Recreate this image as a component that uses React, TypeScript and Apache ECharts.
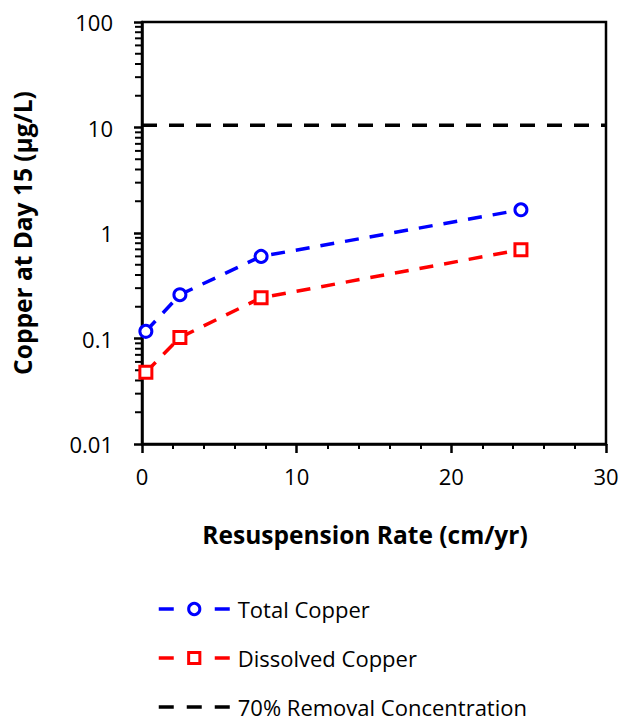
import React, { useEffect, useRef } from "react";
import * as echarts from "echarts";

const rates = [0.25, 2.45, 7.7, 24.5];
const totalCopper = [0.117, 0.26, 0.6, 1.66];
const dissolvedCopper = [0.048, 0.102, 0.243, 0.695];
const removalLevel = 10.5;
const yMinorTicks = [
  0.02, 0.03, 0.04, 0.05, 0.06, 0.07, 0.08, 0.09,
  0.2, 0.3, 0.4, 0.5, 0.6, 0.7, 0.8, 0.9,
  2, 3, 4, 5, 6, 7, 8, 9,
  20, 30, 40, 50, 60, 70, 80, 90,
];

const FONT = "Open Sans";

export default function App() {
  const ref = useRef<HTMLDivElement>(null);
  useEffect(() => {
    if (!ref.current) return;
    const chart = echarts.init(ref.current, null, { renderer: "svg" });
    const option: any = {
      animation: false,
      backgroundColor: "#fff",
      textStyle: { fontFamily: FONT },
      grid: {
        left: 142,
        top: 22,
        right: 18,
        bottom: 281,
        outerBoundsMode: "none",
        containLabel: false,
        show: true,
        borderColor: "#000",
        borderWidth: 2.5,
      },
      xAxis: {
        type: "value",
        min: 0,
        max: 30,
        interval: 10,
        name: "Resuspension Rate (cm/yr)",
        nameLocation: "middle",
        nameGap: 78,
        nameTextStyle: {
          fontFamily: FONT,
          fontWeight: "bold",
          fontSize: 24.5,
          color: "#000",
          padding: [0, 18, 0, 0],
        },
        axisLine: { onZero: false, lineStyle: { color: "#000", width: 2.5 } },
        axisTick: { show: true, length: 9, lineStyle: { color: "#000", width: 2.5 } },
        minorTick: { show: true, splitNumber: 5, length: 5, lineStyle: { color: "#000", width: 2 } },
        axisLabel: { fontFamily: FONT, fontSize: 22, color: "#000", margin: 21 },
        splitLine: { show: false },
      },
      yAxis: {
        type: "log",
        logBase: 10,
        min: 0.01,
        max: 100,
        interval: 1,
        name: "Copper at Day 15 (µg/L)",
        nameLocation: "middle",
        nameGap: 107,
        nameRotate: 90,
        nameTextStyle: { fontFamily: FONT, fontWeight: "bold", fontSize: 24.5, color: "#000" },
        axisLine: { lineStyle: { color: "#000", width: 2.5 } },
        axisTick: { show: true, length: 8, lineStyle: { color: "#000", width: 2.5 } },
        axisLabel: {
          fontFamily: FONT,
          fontSize: 22,
          color: "#000",
          margin: 29,
          formatter: (v: number) => String(Number(v.toPrecision(3))),
        },
        splitLine: { show: false },
      },
      legend: {
        orient: "vertical",
        left: 157,
        top: 598,
        padding: 0,
        itemGap: 27,
        itemWidth: 71,
        itemHeight: 14,
        textStyle: { fontFamily: FONT, fontSize: 22, color: "#000", padding: [0, 0, 0, 3] },
        data: [
          {
            name: "Total Copper",
            lineStyle: { type: [15, 41], width: 3.5 },
            itemStyle: { borderWidth: 3 },
          },
          {
            name: "Dissolved Copper",
            lineStyle: { type: [15, 41], width: 3.5 },
            itemStyle: { borderWidth: 3 },
          },
          {
            name: "70% Removal Concentration",
            itemStyle: { opacity: 0 },
            lineStyle: { type: [15, 13], width: 3.5 },
          },
        ],
      },
      series: [
        {
          name: "Total Copper",
          type: "line",
          data: rates.map((r, i) => [r, totalCopper[i]]),
          symbol: "circle",
          symbolSize: 12,
          lineStyle: { color: "#0000ff", width: 3.5, type: [14, 11] },
          itemStyle: { color: "#fff", borderColor: "#0000ff", borderWidth: 3 },
        },
        {
          name: "Dissolved Copper",
          type: "line",
          data: rates.map((r, i) => [r, dissolvedCopper[i]]),
          symbol: "rect",
          symbolSize: 12,
          lineStyle: { color: "#ff0000", width: 3.5, type: [14, 11] },
          itemStyle: { color: "#fff", borderColor: "#ff0000", borderWidth: 3 },
        },
        {
          name: "70% Removal Concentration",
          type: "line",
          data: [[0, removalLevel], [30, removalLevel]],
          symbol: "none",
          showSymbol: false,
          lineStyle: { color: "#000", width: 3.5, type: [15, 12] },
          itemStyle: { color: "#000" },
        },
        {
          name: "yMinor",
          type: "custom",
          clip: false,
          silent: true,
          data: yMinorTicks.map((v) => [0, v]),
          renderItem: (params: any, api: any) => {
            const p = api.coord([0, api.value(1)]);
            return {
              type: "line",
              shape: { x1: p[0] - 7, y1: p[1], x2: p[0], y2: p[1] },
              style: { stroke: "#000", lineWidth: 2 },
            };
          },
        },
      ],
    };
    chart.setOption(option);
    return () => chart.dispose();
  }, []);
  return <div ref={ref} style={{ width: 624, height: 725, position: "absolute", left: 0, top: 0 }} />;
}
